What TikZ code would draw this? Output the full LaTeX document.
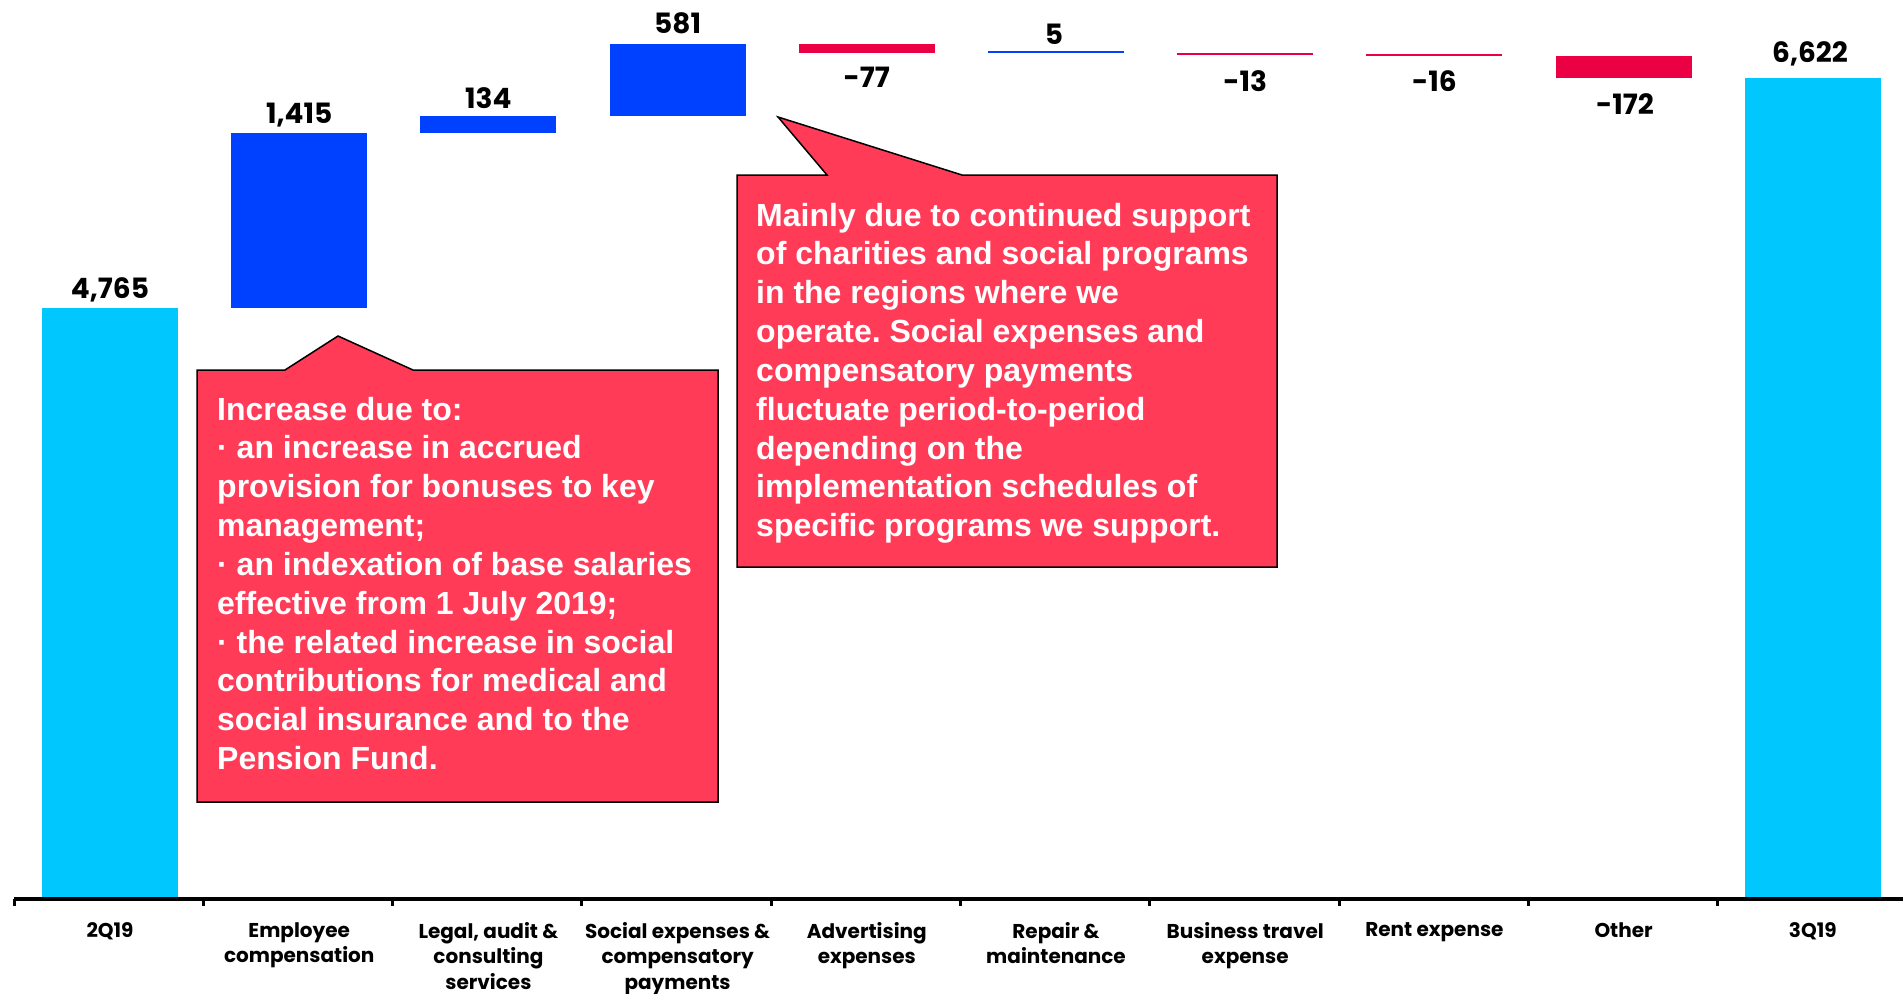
\documentclass[tikz,border=0pt]{standalone}
\usepackage{fontspec}
\setmainfont{Poppins}
\newfontfamily\callfont{Liberation Sans}
\definecolor{cyanbar}{HTML}{00C8FF}
\definecolor{bluebar}{HTML}{0041FF}
\definecolor{redbar}{HTML}{EB0044}
\definecolor{callfill}{HTML}{FF3B58}
\frenchspacing
\begin{document}
\begin{tikzpicture}[x=1pt,y=-1pt,
  numlbl/.style={anchor=base,inner sep=0pt,font=\fontsize{28}{30}\selectfont\bfseries},
  catlbl/.style={anchor=north,inner sep=0pt,align=center,font=\fontsize{20}{25.5}\selectfont\bfseries},
  callout/.style={fill=callfill,draw=black,line width=1.5pt,line join=miter},
  calltext/.style={anchor=base west,inner sep=0pt,text=white,font=\callfont\fontsize{32}{38.84}\selectfont\bfseries\frenchspacing},
  axisline/.style={line width=3.3pt,black}]
\useasboundingbox (0,0) rectangle (1903,993);
% bars
\fill[cyanbar] (42,308) rectangle (178,899);
\fill[bluebar] (231.2,132.5) rectangle (367.2,308);
\fill[bluebar] (420.4,115.9) rectangle (556.4,132.5);
\fill[bluebar] (609.6,43.8) rectangle (745.6,115.9);
\fill[redbar] (798.8,43.8) rectangle (934.8,53.4);
\fill[bluebar] (988,51.2) rectangle (1124,53.2);
\fill[redbar] (1177.2,52.9) rectangle (1313.2,54.9);
\fill[redbar] (1366.4,54.4) rectangle (1502.4,56.4);
\fill[redbar] (1555.6,56.3) rectangle (1691.6,77.7);
\fill[cyanbar] (1744.8,77.7) rectangle (1880.8,899);
% axis
\coordinate (axL) at (14,899);
\coordinate (axR) at (1903,899);
\draw[axisline] (axL) -- (axR);
\foreach \k in {0,...,9} {
  \coordinate (t\k) at ({14+189.3*\k},899);
  \draw[line width=3pt] (t\k) -- ++(0,7);
}
% value labels
\node[numlbl] (v0) at (110,298) {4,765};
\node[numlbl] (v1) at (299.2,123) {1,415};
\node[numlbl] (v2) at (488.4,108) {134};
\node[numlbl] (v3) at (677.6,33.5) {581};
\node[numlbl] (v4) at (866.8,87) {-77};
\node[numlbl] (v5) at (1054,44) {5};
\node[numlbl] (v6) at (1245.2,91.7) {-13};
\node[numlbl] (v7) at (1434.4,91.7) {-16};
\node[numlbl] (v8) at (1625,114) {-172};
\node[numlbl] (v9) at (1810,62) {6,622};
% category labels
\node[catlbl] (c0) at (110,922) {2Q19};
\node[catlbl] (c1) at (299.2,922) {Employee\\compensation};
\node[catlbl] (c2) at (488.4,922) {Legal, audit \&\\consulting\\services};
\node[catlbl] (c3) at (677.6,922) {Social expenses \&\\compensatory\\payments};
\node[catlbl] (c4) at (866.8,922) {Advertising\\expenses};
\node[catlbl] (c5) at (1056,922) {Repair \&\\maintenance};
\node[catlbl] (c6) at (1245.2,922) {Business travel\\expense};
\node[catlbl] (c7) at (1434.4,922) {Rent expense};
\node[catlbl] (c8) at (1623.6,922) {Other};
\node[catlbl] (c9) at (1812.8,922) {3Q19};
% callout 1
\draw[callout] (197,370) -- (285,370) -- (338,336) -- (413,370) -- (718,370) -- (718,802) -- (197,802) -- cycle;
\foreach \t [count=\i] in {Increase due to:,
  {· an increase in accrued},
  {provision for bonuses to key},
  {management;},
  {· an indexation of base salaries},
  {effective from 1 July 2019;},
  {· the related increase in social},
  {contributions for medical and},
  {social insurance and to the},
  {Pension Fund.}}
  \node[calltext] (a\i) at (217,{420+(\i-1)*38.84}) {\t};
% callout 2
\draw[callout] (737,175) -- (827,175) -- (778,117) -- (962,175) -- (1277,175) -- (1277,567) -- (737,567) -- cycle;
\foreach \t [count=\i] in {{Mainly due to continued support},
  {of charities and social programs},
  {in the regions where we},
  {operate. Social expenses and},
  {compensatory payments},
  {fluctuate period-to-period},
  {depending on the},
  {implementation schedules of},
  {specific programs we support.}}
  \node[calltext] (b\i) at (756,{226+(\i-1)*38.84}) {\t};
\end{tikzpicture}
\end{document}
